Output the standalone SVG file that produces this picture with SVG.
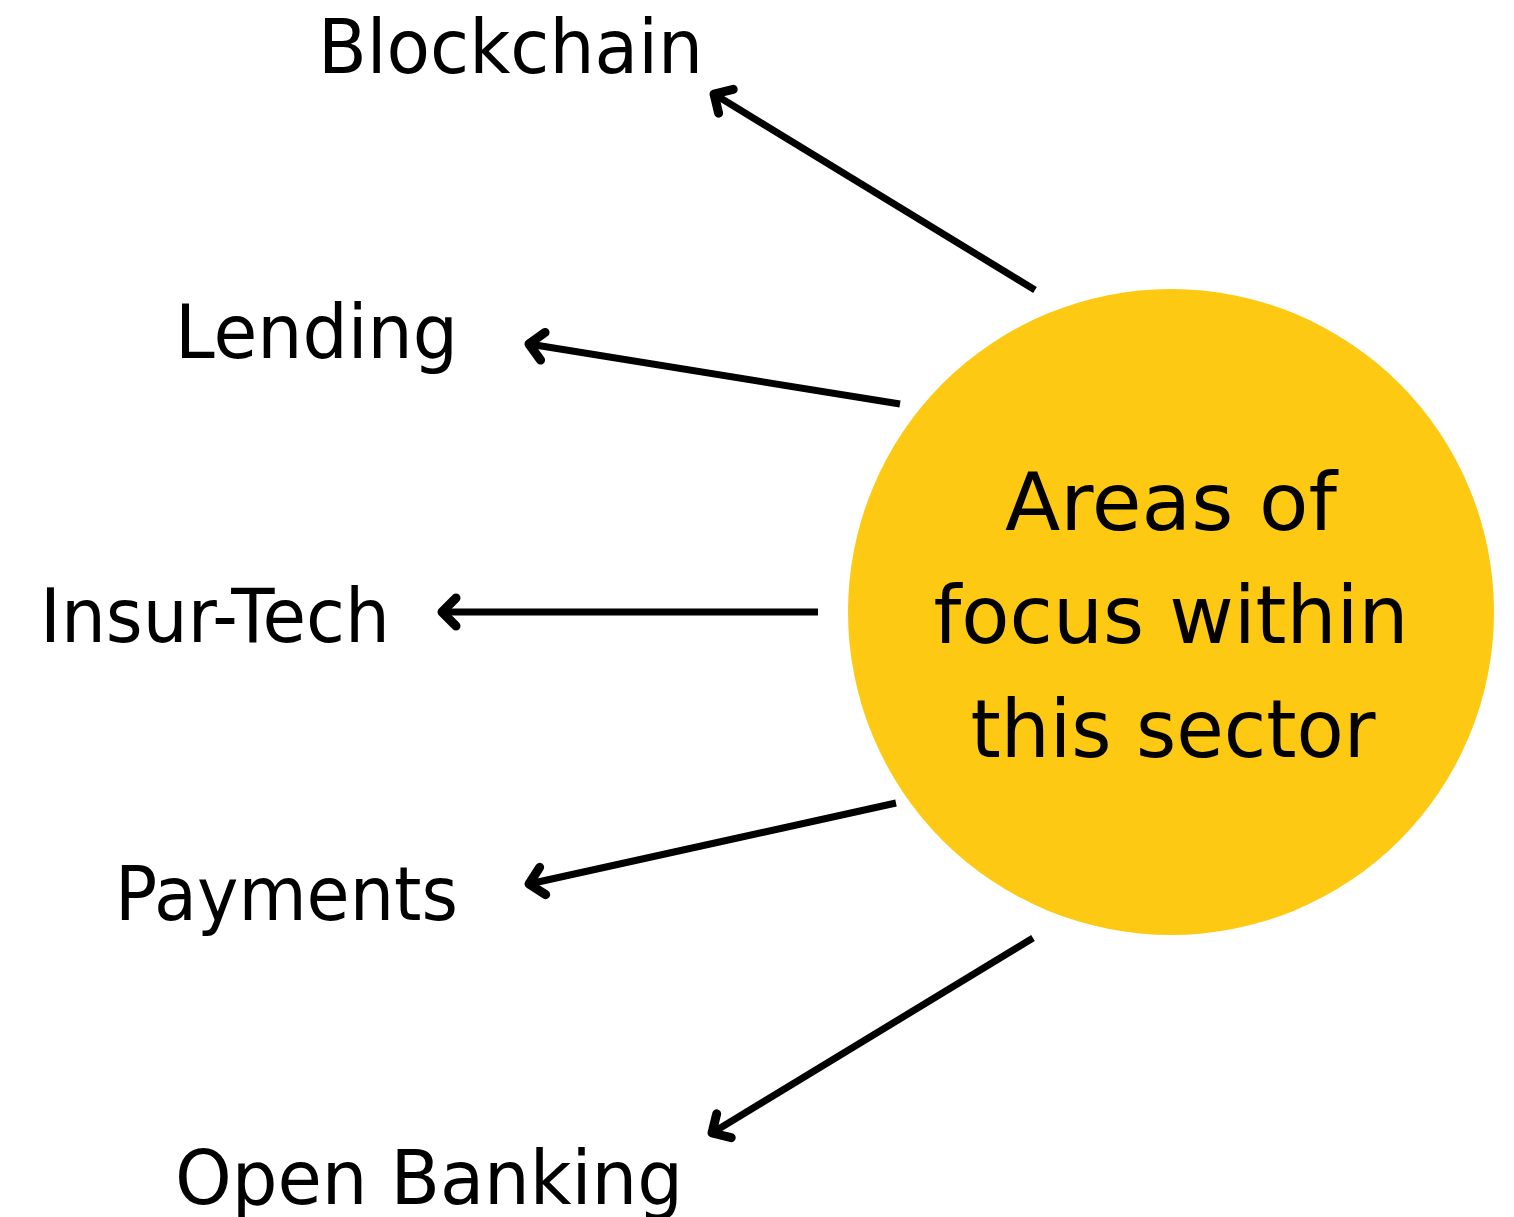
<svg xmlns="http://www.w3.org/2000/svg" width="1514" height="1217" viewBox="0 0 1514 1217">
<style>
.lbl{font-family:"DejaVu Sans","Liberation Sans",sans-serif;font-size:74px;fill:#000}
.ctr{font-family:"DejaVu Sans","Liberation Sans",sans-serif;font-size:80px;fill:#000;text-anchor:middle}
.con{stroke:#000;stroke-width:7;fill:none;stroke-linecap:butt;marker-end:url(#ah)}
</style>
<defs>
<marker id="ah" markerUnits="userSpaceOnUse" viewBox="-30 -20 40 40" refX="0" refY="0" markerWidth="40" markerHeight="40" orient="auto">
<path d="M-14,-14 L0,0 L-14,14" stroke="#000" stroke-width="9" fill="none" stroke-linecap="round" stroke-linejoin="round"/>
</marker>
</defs>
<rect width="1514" height="1217" fill="#fff"/>
<g id="center">
<circle cx="1171" cy="612" r="323" fill="#FDC913"/>
<text class="ctr" x="1171" y="530" textLength="332" lengthAdjust="spacingAndGlyphs">Areas of</text>
<text class="ctr" x="1171" y="643" textLength="475" lengthAdjust="spacingAndGlyphs">focus within</text>
<text class="ctr" x="1173" y="757" textLength="405" lengthAdjust="spacingAndGlyphs">this sector</text>
</g>
<g id="blockchain"><text class="lbl" x="318" y="73" textLength="385" lengthAdjust="spacingAndGlyphs">Blockchain</text></g>
<g id="lending"><text class="lbl" x="175" y="358" textLength="283" lengthAdjust="spacingAndGlyphs">Lending</text></g>
<g id="insurtech"><text class="lbl" x="40" y="642" textLength="350" lengthAdjust="spacingAndGlyphs">Insur-Tech</text></g>
<g id="payments"><text class="lbl" x="115" y="920" textLength="343" lengthAdjust="spacingAndGlyphs">Payments</text></g>
<g id="openbanking"><text class="lbl" x="175" y="1204" textLength="508" lengthAdjust="spacingAndGlyphs">Open Banking</text></g>
<g id="connectors">
<line class="con" x1="1035" y1="290" x2="714" y2="94"/>
<line class="con" x1="900" y1="404" x2="529" y2="344"/>
<line class="con" x1="818" y1="612" x2="442" y2="612"/>
<line class="con" x1="896" y1="803" x2="529" y2="884"/>
<line class="con" x1="1033" y1="938" x2="712" y2="1133"/>
</g>
</svg>
